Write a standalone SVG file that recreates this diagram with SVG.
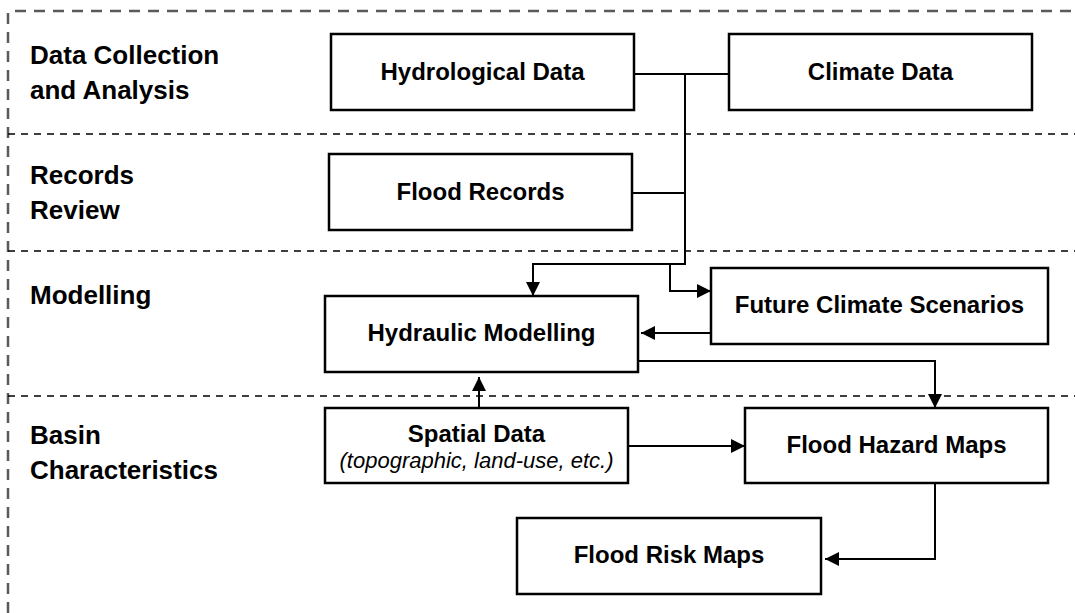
<svg xmlns="http://www.w3.org/2000/svg" width="1075" height="613" viewBox="0 0 1075 613">
<style>
.frame{fill:none;stroke:#5a5a5a;stroke-width:2.5;stroke-dasharray:11 8}
.sep{fill:none;stroke:#000;stroke-width:1.5;stroke-dasharray:7 6}
.box{fill:#fff;stroke:#000;stroke-width:2.5}
.lbl{font-family:"Liberation Sans",Arial,sans-serif;font-weight:bold;font-size:24px;fill:#000;text-anchor:middle}
.sub{font-family:"Liberation Sans",Arial,sans-serif;font-style:italic;font-size:22px;fill:#000;text-anchor:middle}
.sec{font-family:"Liberation Sans",Arial,sans-serif;font-weight:bold;font-size:26px;fill:#000}
.con{fill:none;stroke:#000;stroke-width:2}
</style>
<defs>
<marker id="arr" markerUnits="userSpaceOnUse" markerWidth="15" markerHeight="15" refX="14" refY="7" orient="auto">
<path d="M0,0 L14,7 L0,14 z" fill="#000"/>
</marker>
</defs>
<rect width="1075" height="613" fill="#fff"/>
<g id="lanes">
<line class="frame" x1="15" y1="11" x2="1075" y2="11"/>
<line class="frame" x1="8" y1="13" x2="8" y2="613"/>
<line class="sep" x1="8" y1="134" x2="1075" y2="134"/>
<line class="sep" x1="8" y1="251" x2="1075" y2="251"/>
<line class="sep" x1="8" y1="396" x2="1075" y2="396"/>
<text class="sec" x="30" y="64">Data Collection</text>
<text class="sec" x="30" y="99">and Analysis</text>
<text class="sec" x="30" y="184">Records</text>
<text class="sec" x="30" y="219">Review</text>
<text class="sec" x="30" y="304">Modelling</text>
<text class="sec" x="30" y="444">Basin</text>
<text class="sec" x="30" y="479">Characteristics</text>
</g>
<g id="connectors">
<line class="con" x1="634" y1="74" x2="729" y2="74"/>
<polyline class="con" points="685,74 685,264 533,264 533,296" marker-end="url(#arr)"/>
<line class="con" x1="632" y1="193" x2="685" y2="193"/>
<polyline class="con" points="670,264 670,291 711,291" marker-end="url(#arr)"/>
<line class="con" x1="711" y1="333" x2="641" y2="333" marker-end="url(#arr)"/>
<polyline class="con" points="638,361 935,361 935,408" marker-end="url(#arr)"/>
<line class="con" x1="479" y1="408" x2="479" y2="377" marker-end="url(#arr)"/>
<line class="con" x1="628" y1="446" x2="745" y2="446" marker-end="url(#arr)"/>
<polyline class="con" points="935,483 935,559 825,559" marker-end="url(#arr)"/>
</g>
<g id="hydrological-data">
<rect class="box" x="331" y="34" width="303" height="76"/>
<text class="lbl" x="482.5" y="80">Hydrological Data</text>
</g>
<g id="climate-data">
<rect class="box" x="729" y="34" width="303" height="76"/>
<text class="lbl" x="880.5" y="80">Climate Data</text>
</g>
<g id="flood-records">
<rect class="box" x="329" y="154" width="303" height="76"/>
<text class="lbl" x="480.5" y="200">Flood Records</text>
</g>
<g id="hydraulic-modelling">
<rect class="box" x="325" y="296" width="313" height="76"/>
<text class="lbl" x="481.5" y="341">Hydraulic Modelling</text>
</g>
<g id="future-climate-scenarios">
<rect class="box" x="711" y="268" width="337" height="76"/>
<text class="lbl" x="879.5" y="313">Future Climate Scenarios</text>
</g>
<g id="spatial-data">
<rect class="box" x="325" y="408" width="303" height="75"/>
<text class="lbl" x="476.5" y="442">Spatial Data</text>
<text class="sub" x="476.5" y="468">(topographic, land-use, etc.)</text>
</g>
<g id="flood-hazard-maps">
<rect class="box" x="745" y="408" width="303" height="75"/>
<text class="lbl" x="896.5" y="453">Flood Hazard Maps</text>
</g>
<g id="flood-risk-maps">
<rect class="box" x="517" y="518" width="304" height="76"/>
<text class="lbl" x="669" y="563">Flood Risk Maps</text>
</g>
</svg>
